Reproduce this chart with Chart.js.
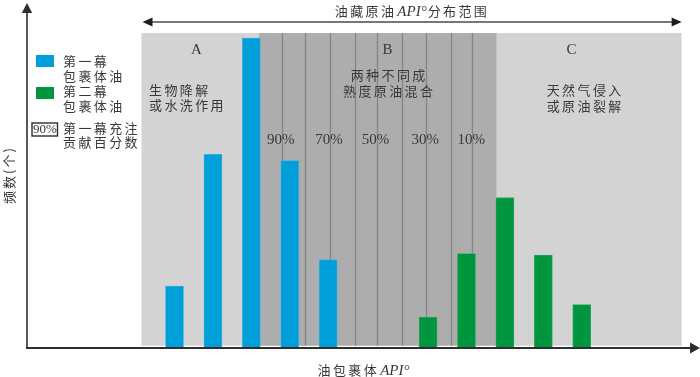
<!DOCTYPE html>
<html>
<head>
<meta charset="utf-8">
<script src="https://cdn.jsdelivr.net/npm/chart.js@4/dist/chart.umd.min.js"></script>
<style>
html,body{margin:0;padding:0;background:#fff;}
#wrap{width:700px;height:377px;position:relative;}
</style>
</head>
<body>
<div id="wrap"><canvas id="c" width="700" height="377"></canvas></div>
<script>
// ---- data ----
const stage1Api = [20, 25, 30, 35, 40];          // 第一幕包裹体油 API° positions
const stage1Counts = [4.0, 12.5, 20.0, 12.1, 5.7];
const stage2Api = [53, 58, 63, 68, 73];          // 第二幕包裹体油 API° positions
const stage2Counts = [2.0, 6.1, 9.7, 6.0, 2.8];
const zoneEdges = [15.7, 31.0, 61.9, 86.0];      // A | B | C boundaries (API°)
const zoneNames = ['A', 'B', 'C'];
const mixLines = [33.95, 37.0, 40.25, 43.5, 46.3, 49.55, 52.75, 55.95, 58.75];
const percentLabels = ['90%', '70%', '50%', '30%', '10%'];
const percentApi = [33.95, 40.25, 46.3, 52.75, 58.75];
const zoneNotes = [['生物降解', '或水洗作用'], ['两种不同成', '熟度原油混合'], ['天然气侵入', '或原油裂解']];
const legendLabels = [['第一幕', '包裹体油'], ['第二幕', '包裹体油'], ['第一幕充注', '贡献百分数']];
const legendBoxText = '90%';
const titleParts = ['油藏原油', 'API°', '分布范围'];
const xTitleParts = ['油包裹体', 'API°'];
const yTitle = '频数(个)';

const BLUE = '#009fda', GREEN = '#00963f';
const CJK = '"Noto Sans CJK SC"';
const SERIF = '"Liberation Serif"';
const TXT = '#383838';

function spaced(ctx, str, x, y, sp, align) {
  const ws = [...str].map(ch => ctx.measureText(ch).width);
  const total = ws.reduce((a, b) => a + b, 0) + sp * (ws.length - 1);
  let cx = align === 'center' ? x - total / 2 : x;
  ctx.textAlign = 'left';
  [...str].forEach((ch, i) => { ctx.fillText(ch, cx, y); cx += ws[i] + sp; });
  return total;
}
function mixed(ctx, parts, cx, y) {
  const sp = 2.4;
  const widths = parts.map(([t, lat]) => {
    ctx.font = lat ? 'italic 15px ' + SERIF : '13px ' + CJK;
    if (lat) return ctx.measureText(t).width + 2;
    return [...t].reduce((a, ch) => a + ctx.measureText(ch).width + sp, 0);
  });
  const total = widths.reduce((a, b) => a + b, 0);
  let x = cx - total / 2;
  parts.forEach(([t, lat], i) => {
    if (lat) {
      ctx.font = 'italic 15px ' + SERIF;
      ctx.textAlign = 'left';
      ctx.fillText(t, x + 1, y + 1);
    } else {
      ctx.font = '13px ' + CJK;
      spaced(ctx, t, x, y, sp, 'left');
    }
    x += widths[i];
  });
}
function arrowHead(ctx, tx, ty, dir, len, half) {
  ctx.beginPath();
  if (dir === 'right') { ctx.moveTo(tx, ty); ctx.lineTo(tx - len, ty - half); ctx.lineTo(tx - len, ty + half); }
  if (dir === 'left') { ctx.moveTo(tx, ty); ctx.lineTo(tx + len, ty - half); ctx.lineTo(tx + len, ty + half); }
  if (dir === 'up') { ctx.moveTo(tx, ty); ctx.lineTo(tx - half, ty + len); ctx.lineTo(tx + half, ty + len); }
  ctx.closePath(); ctx.fill();
}

const backdrop = {
  id: 'backdrop',
  beforeDatasetsDraw(chart) {
    const { ctx, scales: { x, y } } = chart;
    const top = y.getPixelForValue(20.32), bot = y.getPixelForValue(0.15);
    ctx.save();
    ctx.fillStyle = '#d3d3d3';
    ctx.fillRect(x.getPixelForValue(zoneEdges[0]), top, x.getPixelForValue(zoneEdges[3]) - x.getPixelForValue(zoneEdges[0]), bot - top);
    ctx.fillStyle = '#acadac';
    ctx.fillRect(x.getPixelForValue(zoneEdges[1]), top, x.getPixelForValue(zoneEdges[2]) - x.getPixelForValue(zoneEdges[1]), bot - top);
    ctx.strokeStyle = '#858585'; ctx.lineWidth = 1.3;
    mixLines.forEach(v => {
      const px = Math.round(x.getPixelForValue(v)) + 0.5;
      ctx.beginPath(); ctx.moveTo(px, top); ctx.lineTo(px, bot); ctx.stroke();
    });
    ctx.restore();
  },
  afterDatasetsDraw(chart) {
    const { ctx, chartArea: ca, scales: { x, y } } = chart;
    ctx.save();
    ctx.fillStyle = '#2e2e2e'; ctx.strokeStyle = '#2e2e2e';
    ctx.lineWidth = 1.6;
    ctx.beginPath(); ctx.moveTo(ca.left, ca.bottom); ctx.lineTo(ca.left, ca.top + 8); ctx.stroke();
    arrowHead(ctx, ca.left, ca.top, 'up', 10, 5.2);
    ctx.lineWidth = 2;
    ctx.beginPath(); ctx.moveTo(ca.left - 1, ca.bottom); ctx.lineTo(ca.right - 6, ca.bottom); ctx.stroke();
    arrowHead(ctx, ca.right + 3, ca.bottom, 'right', 10, 5.5);
    const ax0 = x.getPixelForValue(zoneEdges[0]) + 1, ax1 = x.getPixelForValue(zoneEdges[3]);
    ctx.strokeStyle = '#4a4a4a'; ctx.fillStyle = '#1e1e1e'; ctx.lineWidth = 1.6;
    ctx.beginPath(); ctx.moveTo(ax0 + 4, 22); ctx.lineTo(ax1 - 4, 22); ctx.stroke();
    arrowHead(ctx, ax0, 22, 'left', 10, 4.6);
    arrowHead(ctx, ax1, 22, 'right', 10, 4.6);

    ctx.fillStyle = TXT; ctx.textBaseline = 'middle';
    ctx.font = '15px ' + SERIF; ctx.textAlign = 'center';
    const letterX = [196.5, 387.5, 571.5];
    zoneNames.forEach((n, i) => ctx.fillText(n, letterX[i], 50));
    ctx.font = '13px ' + CJK;
    spaced(ctx, zoneNotes[0][0], 149, 90, 2.4, 'left');
    spaced(ctx, zoneNotes[0][1], 149, 105, 2.4, 'left');
    spaced(ctx, zoneNotes[1][0], 388, 75, 2.4, 'center');
    spaced(ctx, zoneNotes[1][1], 388, 91, 2.4, 'center');
    spaced(ctx, zoneNotes[2][0], 584, 90, 2.4, 'center');
    spaced(ctx, zoneNotes[2][1], 584, 106, 2.4, 'center');
    ctx.font = '15px ' + SERIF; ctx.textAlign = 'center';
    percentLabels.forEach((p, i) => ctx.fillText(p, x.getPixelForValue(percentApi[i]) - 1, 140));
    ctx.fillStyle = BLUE; ctx.fillRect(36, 55, 18, 12);
    ctx.fillStyle = GREEN; ctx.fillRect(36, 87, 18, 12);
    ctx.strokeStyle = '#2e2e2e'; ctx.lineWidth = 1.4;
    ctx.strokeRect(32, 123, 25.5, 13);
    ctx.fillStyle = TXT;
    ctx.font = '13px ' + SERIF; ctx.textAlign = 'center';
    ctx.fillText(legendBoxText, 44.8, 130);
    ctx.font = '13px ' + CJK;
    const ly = [[61, 76], [91, 106], [128, 142]];
    legendLabels.forEach((ls, i) => ls.forEach((t, j) => spaced(ctx, t, 63, ly[i][j], 2.4, 'left')));
    mixed(ctx, [[titleParts[0], false], [titleParts[1], true], [titleParts[2], false]], 412, 11);
    mixed(ctx, [[xTitleParts[0], false], [xTitleParts[1], true]], 364, 370);
    ctx.save();
    ctx.translate(9, 176); ctx.rotate(-Math.PI / 2);
    ctx.font = '13px ' + CJK; ctx.textBaseline = 'middle';
    spaced(ctx, yTitle, 0, 0, 2, 'center');
    ctx.restore();
    ctx.restore();
  }
};

new Chart(document.getElementById('c'), {
  type: 'bar',
  data: {
    datasets: [
      { label: '第一幕包裹体油', data: stage1Api.map((v, i) => ({ x: v, y: stage1Counts[i] })),
        backgroundColor: BLUE, borderColor: '#3fb3e0', borderWidth: 0.8, barThickness: 18, grouped: false },
      { label: '第二幕包裹体油', data: stage2Api.map((v, i) => ({ x: v, y: stage2Counts[i] })),
        backgroundColor: GREEN, borderColor: '#34a862', borderWidth: 0.8, barThickness: 18, grouped: false }
    ]
  },
  options: {
    responsive: false,
    animation: false,
    layout: { padding: { left: 27, right: 3, top: 3, bottom: 29 } },
    scales: {
      x: { type: 'linear', display: false, offset: false, min: 0.8, max: 88.0 },
      y: { display: false, min: 0, max: 22.26 }
    },
    plugins: { legend: { display: false }, tooltip: { enabled: false } }
  },
  plugins: [backdrop]
});
</script>
</body>
</html>
